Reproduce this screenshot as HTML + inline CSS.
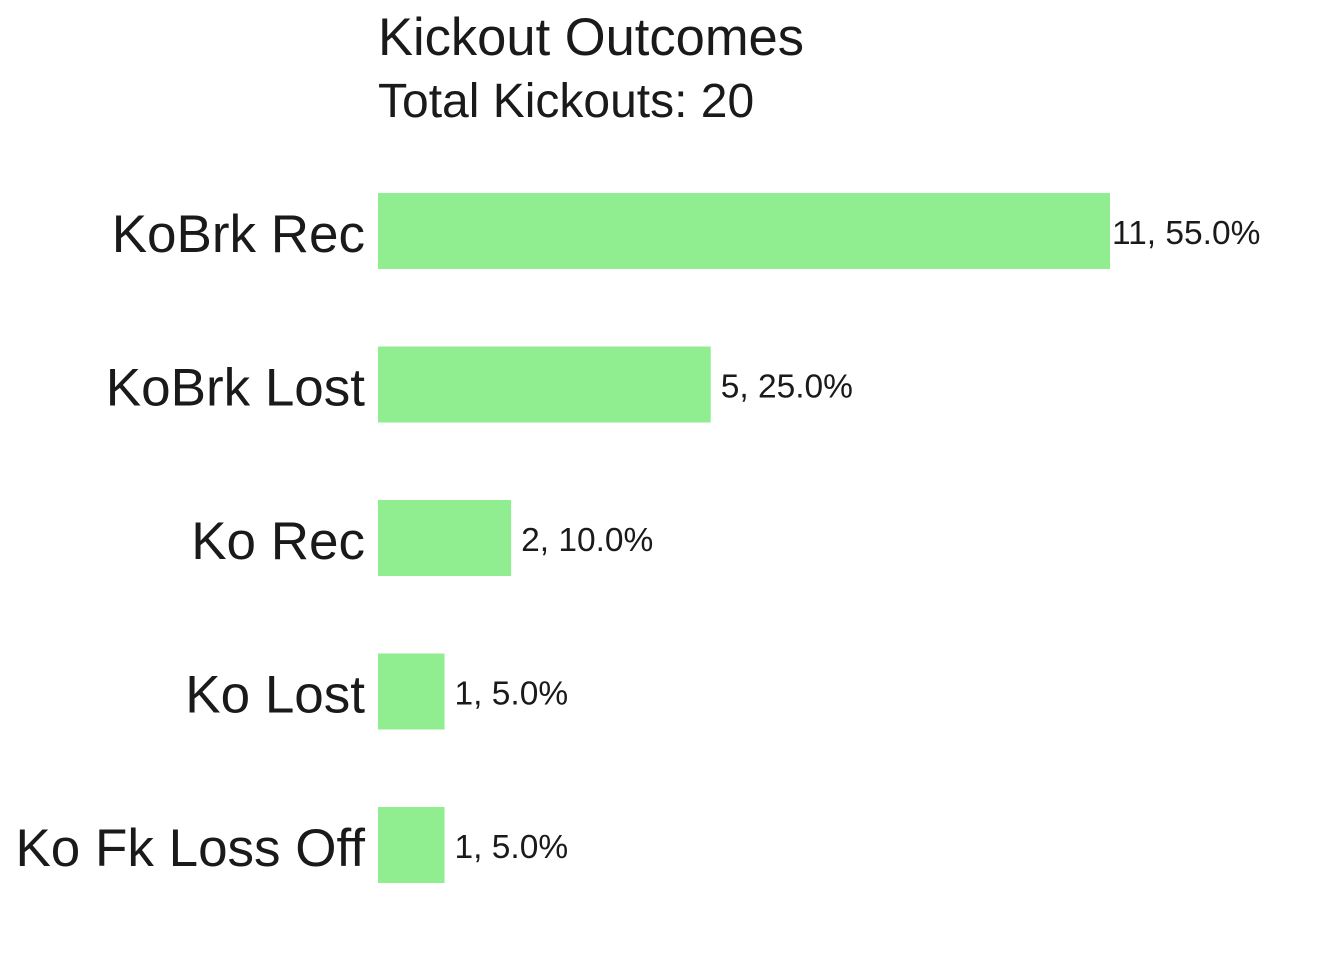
<!DOCTYPE html>
<html><head><meta charset="utf-8"><style>
body{margin:0;background:#fff;width:1344px;height:960px;overflow:hidden}
svg text{font-family:"Liberation Sans",Arial,sans-serif;fill:#1a1a1a}
</style></head><body>
<svg id="chart" width="1344" height="960">
<text x="378" y="55" font-size="52.5">Kickout Outcomes</text>
<text x="378" y="117" font-size="48">Total Kickouts: 20</text>
<g id="bars"></g>
</svg>
<script>
const categories = ["KoBrk Rec","KoBrk Lost","Ko Rec","Ko Lost","Ko Fk Loss Off"];
const counts = [11,5,2,1,1];
const total = 20;
const x0 = 378, unit = (1110-378)/11;
const yTop = 193, step = 153.5, barH = 76;
const xs = v => x0 + v*unit;
const ys = i => yTop + i*step;
const g = document.getElementById('bars');
const NS = 'http://www.w3.org/2000/svg';
categories.forEach((c,i)=>{
  const r = document.createElementNS(NS,'rect');
  r.setAttribute('x',x0); r.setAttribute('y',ys(i));
  r.setAttribute('width',xs(counts[i])-x0); r.setAttribute('height',barH);
  r.setAttribute('fill','#90ee90');
  
  
  g.appendChild(r);
  const t = document.createElementNS(NS,'text');
  t.setAttribute('x',365); t.setAttribute('y',ys(i)+barH/2+21);
  t.setAttribute('text-anchor','end'); t.setAttribute('font-size','53');
  t.textContent = c;
  
  
  g.appendChild(t);
  const v = document.createElementNS(NS,'text');
  v.setAttribute('x',xs(counts[i])+ (i===0?2:10)); v.setAttribute('y',ys(i)+barH/2+13);
  v.setAttribute('font-size','33.5');
  v.textContent = counts[i]+', '+(counts[i]/total*100).toFixed(1)+'%';
  
  
  g.appendChild(v);
});
</script>
</body></html>
